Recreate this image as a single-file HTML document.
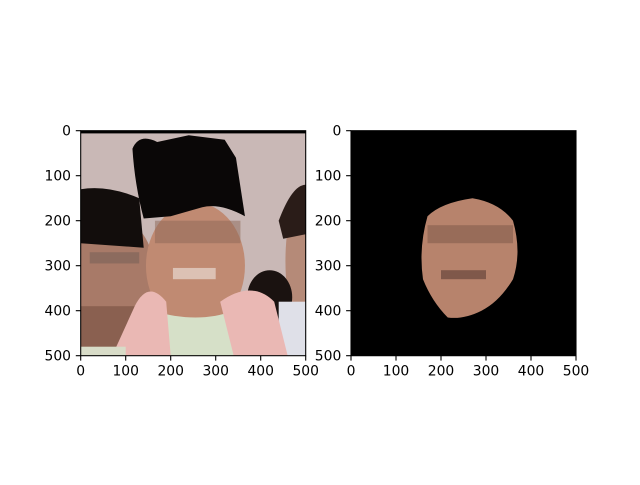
<!DOCTYPE html>
<html><head><meta charset="utf-8"><style>
body{margin:0;background:#fff;width:640px;height:480px;overflow:hidden}
text{font-family:"DejaVu Sans","Liberation Sans",sans-serif;font-size:13.9px;fill:#000}
</style></head><body>
<svg id="fig" width="640" height="480">
<defs>
<clipPath id="c1"><rect x="0" y="0" width="500" height="500"/></clipPath>
</defs>
<g id="ax1" transform="translate(80.7,130.7) scale(0.45)">
 <g clip-path="url(#c1)">
  <rect width="500" height="500" fill="#c9b8b6"/>
  <rect width="500" height="6" fill="#000"/>
  <ellipse cx="70" cy="320" rx="95" ry="130" fill="#a87a68"/>
  <path d="M0 130 Q60 120 130 150 L140 260 L0 250Z" fill="#120d0c"/>
  <rect x="20" y="270" width="110" height="25" fill="#7a6058" opacity="0.6"/>
  <rect x="0" y="390" width="140" height="110" fill="#8a6050"/>
  <ellipse cx="495" cy="290" rx="40" ry="150" fill="#b58a78"/>
  <path d="M440 200 Q470 120 500 120 L500 230 L450 240Z" fill="#2a1c18"/>
  <ellipse cx="420" cy="370" rx="50" ry="60" fill="#1a1210"/>
  <rect x="440" y="380" width="60" height="120" fill="#dfe0e8"/>
  <ellipse cx="255" cy="300" rx="110" ry="140" fill="#c08a72"/>
  <path d="M115 40 Q130 5 170 25 L240 10 L320 20 L345 60 L365 190 Q310 160 270 170 L200 190 L140 195 Q120 120 115 40Z" fill="#0a0707"/>
  <rect x="165" y="200" width="190" height="50" fill="#8c6555" opacity="0.5"/>
  <rect x="205" y="305" width="95" height="25" fill="#e8d8d0" opacity="0.7"/>
  <path d="M160 400 Q260 430 340 400 L360 500 L150 500Z" fill="#d6e0c8"/>
  <path d="M120 390 Q150 330 190 380 L200 500 L70 500Z" fill="#eab8b4"/>
  <path d="M310 380 Q380 330 430 380 L460 500 L340 500Z" fill="#eab8b4"/>
  <rect x="0" y="480" width="100" height="20" fill="#d8dcc8"/>
 </g>
 <rect width="500" height="500" fill="none" stroke="#000" stroke-width="2.4"/>
</g>
<g id="ax2" transform="translate(351,130.7) scale(0.45)">
 <g clip-path="url(#c1)">
  <rect width="500" height="500" fill="#000"/>
  <path d="M170 190 Q200 160 270 150 Q330 160 360 200 Q380 270 360 330 Q330 380 290 400 Q250 420 215 415 Q180 380 160 330 Q150 260 170 190Z" fill="#b7836c"/>
  <rect x="170" y="210" width="190" height="40" fill="#7a5545" opacity="0.5"/>
  <rect x="200" y="310" width="100" height="20" fill="#5a3c34" opacity="0.6"/>
 </g>
 <rect width="500" height="500" fill="none" stroke="#000" stroke-width="2.4"/>
</g>
</svg>
<script>
const ticks=[0,100,200,300,400,500];
const tickLabels=["0","100","200","300","400","500"];
const svg=document.getElementById('fig');
const NS='http://www.w3.org/2000/svg';
const axes=[{x0:80.7,y0:130.7,name:'left'},{x0:351,y0:130.7,name:'right'}];
const S=225/500;
axes.forEach(a=>{
 ticks.forEach((t,i)=>{
  const px=a.x0+t*S, py=a.y0+t*S;
  let l=document.createElementNS(NS,'line');
  l.setAttribute('x1',px);l.setAttribute('x2',px);l.setAttribute('y1',a.y0+225);l.setAttribute('y2',a.y0+229.9);
  l.setAttribute('stroke','#000');l.setAttribute('stroke-width','1.1');
  
  
  svg.appendChild(l);
  let tx=document.createElementNS(NS,'text');
  tx.setAttribute('x',px);tx.setAttribute('y',a.y0+245);tx.setAttribute('text-anchor','middle');
  tx.textContent=tickLabels[i];
  
  
  svg.appendChild(tx);
  let l2=document.createElementNS(NS,'line');
  l2.setAttribute('x1',a.x0-4.9);l2.setAttribute('x2',a.x0);l2.setAttribute('y1',py);l2.setAttribute('y2',py);
  l2.setAttribute('stroke','#000');l2.setAttribute('stroke-width','1.1');
  
  
  svg.appendChild(l2);
  let ty=document.createElementNS(NS,'text');
  ty.setAttribute('x',a.x0-9.7);ty.setAttribute('y',py+5);ty.setAttribute('text-anchor','end');
  ty.textContent=tickLabels[i];
  
  
  svg.appendChild(ty);
 });
});
</script>
</body></html>
